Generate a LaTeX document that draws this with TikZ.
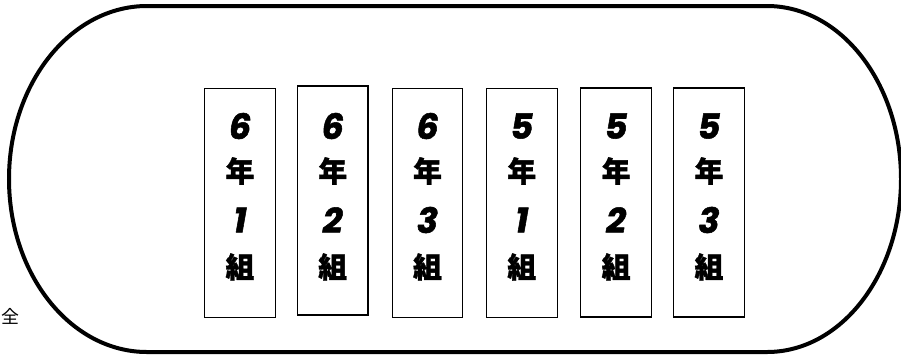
\documentclass[tikz,border=0pt]{standalone}
\usepackage{fontspec}
\newfontfamily\cjk{Noto Sans CJK JP}[BoldFeatures={FakeBold=1.2}]
\newfontfamily\cjkr{Noto Sans CJK JP}
\newfontfamily\digf{Poppins}[BoldItalicFeatures={FakeBold=1.5}]
\tikzset{
  track/.style={draw=black, line width=4bp},
  classbox/.style={draw=black, line width=1.1bp, fill=white, minimum width=70.5bp, minimum height=229bp, inner sep=0pt},
  dig/.style={font=\digf\fontsize{35}{35}\selectfont\bfseries\itshape, inner sep=0pt},
  kan/.style={font=\cjk\fontsize{29}{29}\selectfont\bfseries, inner sep=0pt},
  side/.style={font=\cjkr\fontsize{18}{18}\selectfont, inner sep=0pt}
}
\begin{document}
\begin{tikzpicture}[x=1bp,y=-1bp]
\useasboundingbox (0,0) rectangle (901,354);
\draw[track] (147,6) -- (767,6) arc[start angle=-90, end angle=90, x radius=134, y radius=173]
  -- (147,352) arc[start angle=90, end angle=270, x radius=138, y radius=173] -- cycle;
\node[side] (zen) at (10,316) {全};
\foreach \i/\x/\y/\g/\c in {1/240/202.7/6/1, 2/332.7/200.5/6/2, 3/427.5/202.8/6/3, 4/521.8/202.8/5/1, 5/616.1/202.5/5/2, 6/709/202.5/5/3}{
  \node[classbox] (box\i) at (\x,\y) {};
  \node[dig] (g\i) at (\x,126) {\g};
  \node[kan] (n\i) at (\x,171) {年};
  \node[dig] (c\i) at (\x,220) {\c};
  \node[kan] (k\i) at (\x,267) {組};
}
\end{tikzpicture}
\end{document}
